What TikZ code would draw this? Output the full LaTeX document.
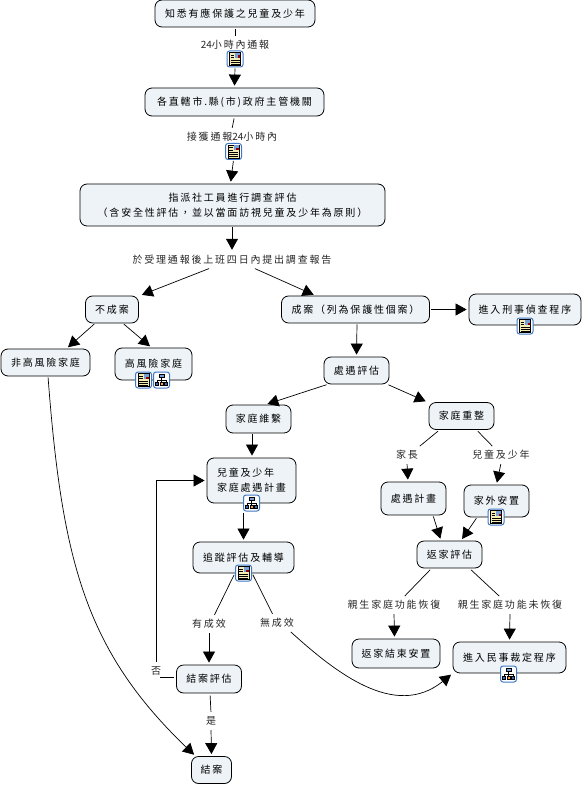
\documentclass[tikz,border=0pt]{standalone}
\usepackage{fontspec}
\newfontfamily\cmapfont[LetterSpace=18]{Noto Sans CJK TC}
\newfontfamily\cmapdigits{Noto Sans CJK TC}
\usepackage{xcolor}
\definecolor{cmapFill}{HTML}{EDF3F6}
\definecolor{cmapIcon}{HTML}{3F78C4}
\definecolor{cmapPaper}{HTML}{F6EDB4}
\usepackage{tikz}
\usetikzlibrary{arrows.meta,calc}

\begin{document}
\begin{tikzpicture}[x=1pt,y=-1pt,>={Triangle[length=11pt,width=12pt]},font=\fontsize{10}{15}\selectfont\cmapfont]
  \tikzset{
    cmapbox/.style={
      draw=black,
      fill=cmapFill,
      rounded corners=7pt,
      line width=0.8pt,
      inner sep=0pt,
      align=center
    },
    linklbl/.style={inner sep=0pt,minimum height=16pt,text=black!85},
    linkline/.style={black,line width=0.7pt,shorten <=2pt,shorten >=1pt},
    linkarrow/.style={->,black,line width=0.7pt,shorten <=1pt,shorten >=2pt},
    iconbox/.style={
      draw=cmapIcon,
      fill=white,
      rounded corners=2.5pt,
      line width=1pt,
      minimum width=16pt,
      minimum height=16pt,
      inner sep=0pt
    },
    noteicon/.pic={
      \node[iconbox] (-box) at (0,0) {};
      \draw[fill=cmapPaper,line width=0.6pt] (-5.5,-6.5) rectangle (5.5,6.5);
      \fill[cmapIcon!70] (0,-6) rectangle (5,-1);
      \fill[red!60!black] (2.5,-3.5) rectangle (5,-1);
      \foreach \ly in {-4,-1.5}{
        \draw[line width=0.6pt] (-4.5,\ly) -- (-0.8,\ly);
      }
      \foreach \ly in {1,3,5}{
        \draw[line width=0.6pt] (-4.5,\ly) -- (4.5,\ly);
      }
    },
    treeicon/.pic={
      \node[iconbox] (-box) at (0,0) {};
      \draw[line width=0.6pt] (0,-3) -- (0,2) (-4.5,2) -- (-4.5,0) -- (4.5,0) -- (4.5,2);
      \draw[fill=cmapIcon!70,line width=0.4pt] (-2.5,-6) rectangle (2.5,-3);
      \draw[fill=cmapIcon!90!black,line width=0.4pt] (-6,2) rectangle (-3,5.5);
      \draw[fill=orange!75,line width=0.4pt] (-1.5,2) rectangle (1.5,5.5);
      \draw[fill=cmapIcon!90!black,line width=0.4pt] (3,2) rectangle (6,5.5);
    }
  }
  \path[use as bounding box] (0,0) rectangle (583,786);

  \node[cmapbox,minimum width=160pt,minimum height=27pt] (aware) at (235,13.5) {知悉有應保護之兒童及少年};
  \node[cmapbox,minimum width=179pt,minimum height=28pt] (agency) at (234.5,102) {各直轄市.縣(市)政府主管機關};
  \node[cmapbox,minimum width=305pt,minimum height=42pt] (assign) at (232.5,205) {指派社工員進行調查評估\\（含安全性評估，並以當面訪視兒童及少年為原則）};
  \node[cmapbox,minimum width=53pt,minimum height=27pt] (nocase) at (112,309.5) {不成案};
  \node[cmapbox,minimum width=89pt,minimum height=27pt] (nonhigh) at (45.5,362.5) {非高風險家庭};
  \node[cmapbox,minimum width=77pt,minimum height=32pt] (high) at (153.5,364) {高風險家庭};
  \node[cmapbox,minimum width=148pt,minimum height=27pt] (yescase) at (355.5,309.5) {成案（列為保護性個案）};
  \node[cmapbox,minimum width=112pt,minimum height=31pt] (criminal) at (525,309.5) {進入刑事偵查程序};
  \node[cmapbox,minimum width=65pt,minimum height=27pt] (assess) at (356.5,370.5) {處遇評估};
  \node[cmapbox,minimum width=65pt,minimum height=28pt] (keep) at (258.5,419) {家庭維繫};
  \node[cmapbox,minimum width=65pt,minimum height=27pt] (rebuild) at (461.5,416) {家庭重整};
  \node[cmapbox,minimum width=89pt,minimum height=45pt,align=left] (famplan) at (251.5,480.5) {兒童及少年\\家庭處遇計畫};
  \node[cmapbox,minimum width=101pt,minimum height=31pt] (follow) at (243.5,557.5) {追蹤評估及輔導};
  \node[cmapbox,minimum width=65pt,minimum height=28pt] (closure) at (209,679) {結案評估};
  \node[cmapbox,minimum width=40pt,minimum height=27pt] (closed) at (211.5,770) {結案};
  \node[cmapbox,minimum width=65pt,minimum height=33pt] (treat) at (413.5,498.5) {處遇計畫};
  \node[cmapbox,minimum width=65pt,minimum height=32pt] (placement) at (496.5,501) {家外安置};
  \node[cmapbox,minimum width=65pt,minimum height=27pt] (return) at (449.5,554.5) {返家評估};
  \node[cmapbox,minimum width=88pt,minimum height=29pt] (done) at (396,653.5) {返家結束安置};
  \node[cmapbox,minimum width=113pt,minimum height=31pt] (civil) at (509.5,657.5) {進入民事裁定程序};

  \node[linklbl] (lblreport) at (235,45) {{\cmapdigits 24}小時內通報};
  \node[linklbl] (lblreceive) at (232,137) {接獲通報{\cmapdigits 24}小時內};
  \node[linklbl] (lblfour) at (232,260) {於受理通報後上班四日內提出調查報告};
  \node[linklbl] (lblparent) at (407,455) {家長};
  \node[linklbl] (lblchild) at (501,455) {兒童及少年};
  \node[linklbl] (lblrestored) at (394,605) {親生家庭功能恢復};
  \node[linklbl] (lblfailed) at (510,605) {親生家庭功能未恢復};
  \node[linklbl] (lbleffect) at (209,624) {有成效};
  \node[linklbl] (lblnoeffect) at (277,623) {無成效};
  \node[linklbl] (lblno) at (156,671) {否};
  \node[linklbl] (lblyes) at (211,721) {是};

  \pic (noteA) at (235,59) {noteicon};
  \pic (noteB) at (233.5,151.5) {noteicon};
  \pic (noteC) at (143.5,380) {noteicon};
  \pic (treeC) at (161.5,380) {treeicon};
  \pic (noteD) at (525,326) {noteicon};
  \pic (treeE) at (251.5,503) {treeicon};
  \pic (noteF) at (243.5,573) {noteicon};
  \pic (noteG) at (496,517) {noteicon};
  \pic (treeH) at (508.5,674) {treeicon};

  \draw[linkline] (aware.south) -- (lblreport.north);
  \draw[linkarrow] (noteA-box.south) -- (agency.north);
  \draw[linkline] (agency.south) -- (lblreceive.north);
  \draw[linkarrow] (noteB-box.south) -- ([xshift=-2]assign.north);
  \draw[linkarrow] ([xshift=-0.5]assign.south) -- (lblfour.north);
  \draw[linkarrow] ([xshift=-22]lblfour.south) -- ([xshift=28]nocase.north);
  \draw[linkarrow] ([xshift=22]lblfour.south) -- ([xshift=-40]yescase.north);

  \draw[linkarrow] ([xshift=-17]nocase.south) -- ([xshift=21]nonhigh.north);
  \draw[linkarrow] ([xshift=11]nocase.south) -- ([xshift=-2]high.north);
  \draw[linkarrow] ([xshift=2.5]nonhigh.south) .. controls (62,560) and (85,650) .. ([xshift=-16]closed.north);

  \draw[linkarrow] (yescase.east) -- (criminal.west);
  \draw[linkarrow] ([xshift=1.5]yescase.south) -- (assess.north);
  \draw[linkarrow] ([xshift=-29]assess.south) -- ([xshift=7]keep.north);
  \draw[linkarrow] ([xshift=31]assess.south) -- ([xshift=-34]rebuild.north);

  \draw[linkarrow] ([xshift=-6.5]keep.south) -- ([xshift=0.5]famplan.north);
  \draw[linkarrow] ([xshift=-8]treeE-box.south) -- (follow.north);
  \draw[linkline] (noteF-box.west) -- ([xshift=5]lbleffect.north);
  \draw[linkline] (noteF-box.east) -- ([xshift=-4]lblnoeffect.north);
  \draw[linkarrow] (lbleffect.south) -- (closure.north);
  \draw[linkarrow] ([xshift=13]lblnoeffect.south) .. controls (335,672) and (395,720) .. (civil.south west);
  \draw[linkline] ([yshift=2]closure.west) -| ([xshift=4]lblno.south);
  \draw[linkarrow] (lblno.north) |- (famplan.west);
  \draw[linkline] ([xshift=1]closure.south) -- (lblyes.north);
  \draw[linkarrow] (lblyes.south) -- (closed.north);

  \draw[linkline] ([xshift=-22]rebuild.south) -- ([xshift=12]lblparent.north);
  \draw[linkline] ([xshift=15]rebuild.south) -- ([xshift=-8]lblchild.north);
  \draw[linkarrow] (lblparent.south) -- ([xshift=-5.5]treat.north);
  \draw[linkarrow] (lblchild.south) -- (placement.north);
  \draw[linkarrow] ([xshift=19.5]treat.south) -- ([xshift=-8.5]return.north);
  \draw[linkarrow] ([xshift=-19.5]placement.south) -- ([xshift=11.5]return.north);
  \draw[linkline] ([xshift=-18]return.south) -- ([xshift=10]lblrestored.north);
  \draw[linkline] ([xshift=20]return.south) -- ([xshift=-10]lblfailed.north);
  \draw[linkarrow] (lblrestored.south) -- ([xshift=-1.5]done.north);
  \draw[linkarrow] (lblfailed.south) -- (civil.north);
\end{tikzpicture}
\end{document}
